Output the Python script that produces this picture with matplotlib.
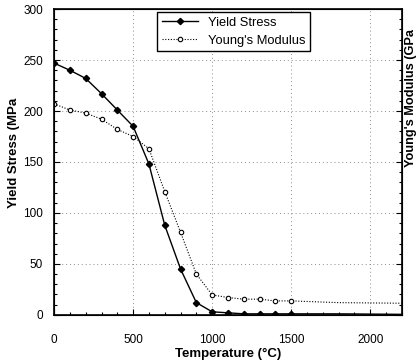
import matplotlib.pyplot as plt
import numpy as np
from matplotlib.ticker import MultipleLocator

plt.rcParams['font.family'] = ['Liberation Sans', 'DejaVu Sans']

temp = [0, 100, 200, 300, 400, 500, 600, 700, 800, 900, 1000, 1100, 1200, 1300, 1400, 1500, 1800, 2200]
yield_stress = [247, 240, 232, 217, 201, 185, 148, 88, 45, 12, 3, 2, 1, 1, 1, 1, 1, 0.5]
youngs = [207, 201, 198, 192, 182, 175, 163, 121, 81, 40, 19.6, 17, 15.4, 15.4, 13.7, 13.7, 12, 11.4]

fig = plt.figure(figsize=(4.16, 3.64), dpi=100)
ax = fig.add_axes([0.13, 0.135, 0.836, 0.84])

ax.plot(temp, yield_stress, color='black', lw=1.0, marker='D', ms=3.2,
        mfc='black', mec='black', markevery=slice(0, 16), label='Yield Stress')
ax.plot(temp, youngs, color='black', lw=0.8, ls=(0, (1, 1.5)), marker='o', ms=3.2,
        mfc='white', mec='black', mew=0.8, markevery=slice(0, 16), label="Young's Modulus")

ax.set_xlim(0, 2200)
ax.set_ylim(0, 300)
ax.xaxis.set_major_locator(MultipleLocator(500))
ax.xaxis.set_minor_locator(MultipleLocator(100))
ax.yaxis.set_major_locator(MultipleLocator(50))
ax.yaxis.set_minor_locator(MultipleLocator(10))
ax.tick_params(which='both', direction='in', labelsize=8.5, width=0.8)
ax.tick_params(which='major', length=4)
ax.tick_params(which='minor', length=2)
ax.tick_params(axis='x', pad=14)
ax.tick_params(axis='y', pad=8)
ax.grid(True, which='major', color='0.55', lw=0.7, ls=(0, (1, 3)))
for s in ax.spines.values():
    s.set_linewidth(1.2)

ax.set_xlabel('Temperature (°C)', fontsize=9.5, fontweight='bold', labelpad=1)
ax.set_ylabel('Yield Stress (MPa', fontsize=9.5, fontweight='bold')
ax.yaxis.set_label_coords(-0.098, 0.53)

ax2 = ax.twinx()
ax2.set_ylim(0, 300)
ax2.yaxis.set_major_locator(MultipleLocator(50))
ax2.yaxis.set_minor_locator(MultipleLocator(10))
ax2.tick_params(which='both', direction='in', labelright=False, width=0.8)
ax2.tick_params(which='major', length=4)
ax2.tick_params(which='minor', length=2)
ax2.set_ylabel("Young's Modulus (GPa", fontsize=9.2, fontweight='bold')
ax2.yaxis.set_label_coords(1.008, 0.71)

leg = ax.legend(loc='upper center', bbox_to_anchor=(0.516, 0.99), fontsize=9.3,
                fancybox=False, framealpha=1, edgecolor='black', handlelength=2.8,
                borderpad=0.35, labelspacing=0.45, borderaxespad=0)
leg.get_frame().set_linewidth(1.0)

fig.savefig('out.png', dpi=100)
